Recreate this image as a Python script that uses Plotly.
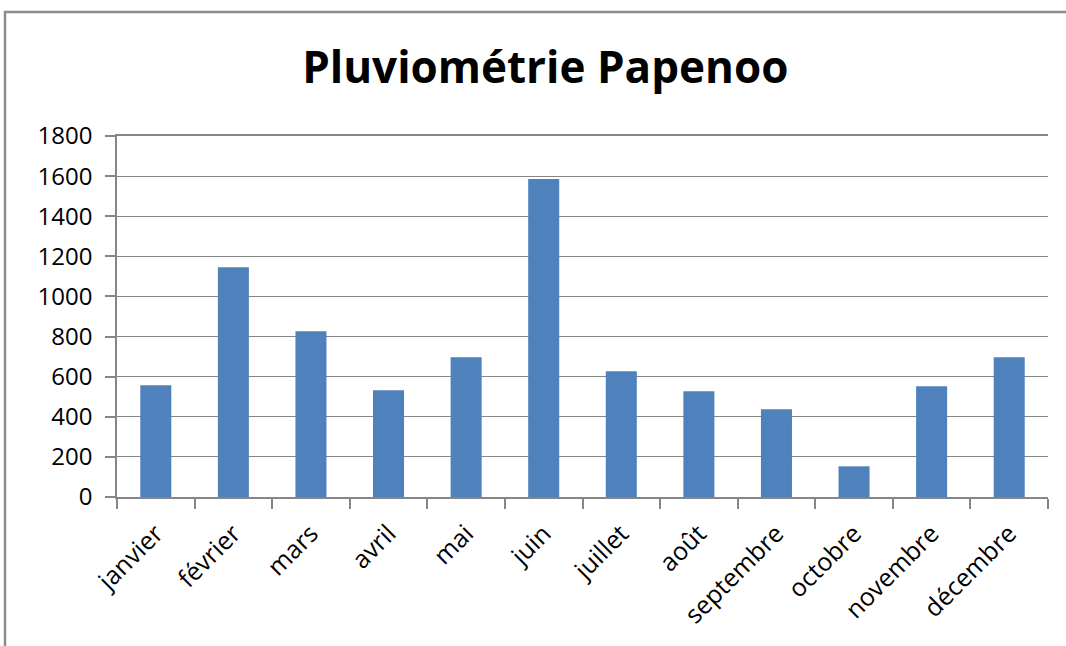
import plotly.graph_objects as go

months = ["janvier", "février", "mars", "avril", "mai", "juin", "juillet",
          "août", "septembre", "octobre", "novembre", "décembre"]
rainfall = [557, 1146, 827, 532, 697, 1586, 627, 527, 438, 153, 552, 697]
y_ticks = [0, 200, 400, 600, 800, 1000, 1200, 1400, 1600, 1800]

fig = go.Figure(go.Bar(x=months, y=rainfall, marker=dict(color="#4F81BD", line=dict(width=0))))

grey = "#868686"
fig.update_layout(
    width=1066, height=646,
    margin=dict(l=117, r=18, t=136, b=149),
    paper_bgcolor="white", plot_bgcolor="white",
    bargap=0.6,
    showlegend=False,
    font=dict(family="Open Sans", color="black", size=22),
    title=dict(text="<b>Pluviométrie Papenoo</b>", x=0.5115, xanchor="center",
               y=0.895, yanchor="middle",
               font=dict(family="Open Sans", size=44, color="black")),
    xaxis=dict(tickangle=-45, showline=True, linecolor=grey, linewidth=2,
               mirror=True,
               ticks="outside", ticklen=10, tickcolor=grey, tickwidth=1.5,
               tickson="boundaries", showgrid=False, ticklabelstandoff=10,
               tickfont=dict(family="Open Sans", size=25, color="black")),
    yaxis=dict(range=[0, 1800], tickvals=y_ticks, showline=True, linecolor=grey,
               linewidth=1.5, ticks="outside", ticklen=10, tickcolor=grey,
               tickwidth=1.5, showgrid=True, gridcolor=grey, gridwidth=1,
               zeroline=False, ticklabelstandoff=8,
               tickfont=dict(family="Open Sans", size=24, color="black")),
    shapes=[dict(type="rect", xref="paper", yref="paper",
                 x0=-0.1203, x1=1.2, y0=-0.6, y1=1.3435,
                 line=dict(color="#8c8c8c", width=2.5), layer="below")],
)

fig.write_html("out.html", config={"displayModeBar": False},
               post_script="document.body.style.margin='0';")
